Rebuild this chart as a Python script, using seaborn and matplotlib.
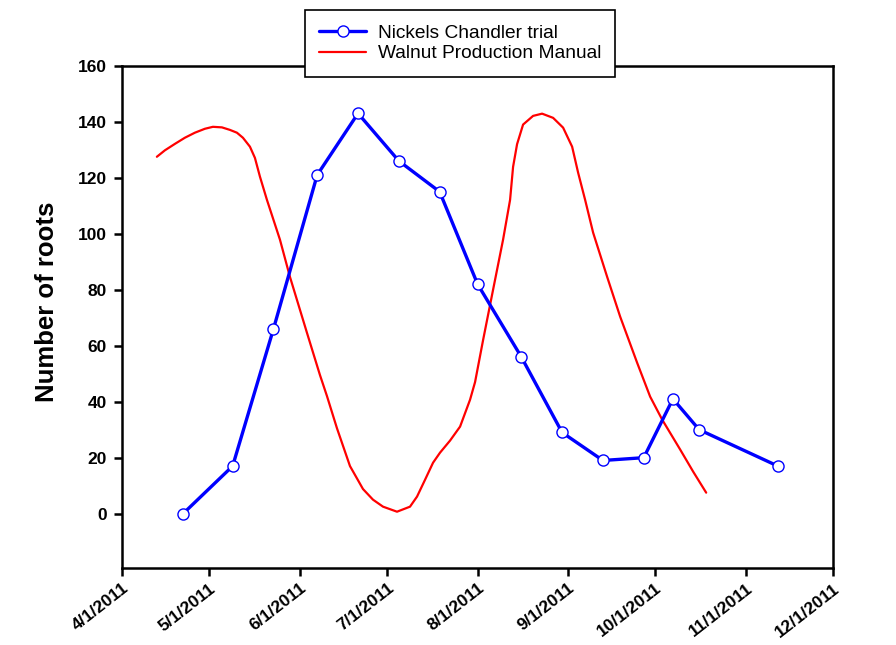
import matplotlib
matplotlib.use("Agg")
import matplotlib.pyplot as plt
import matplotlib.dates as mdates
import seaborn as sns
import pandas as pd

# Nickels Chandler trial (sample dates and root counts)
blue_dates = ["2011-04-22", "2011-05-09", "2011-05-23", "2011-06-07", "2011-06-21",
              "2011-07-05", "2011-07-19", "2011-08-01", "2011-08-16", "2011-08-30",
              "2011-09-13", "2011-09-27", "2011-10-07", "2011-10-16", "2011-11-12"]
blue_values = [0, 17, 66, 121, 143, 126, 115, 82, 56, 29, 19, 20, 41, 30, 17]

# Walnut Production Manual (smooth curve; days since 4/1/2011)
red_days = [12.01, 14.76, 18.19, 21.62, 25.05, 28.48, 31.23, 34.32, 37.06, 39.46,
            41.52, 43.93, 45.64, 47.36, 49.76, 54.22, 57.65, 63.49, 67.95, 70.35,
            73.78, 78.24, 82.70, 86.13, 89.57, 94.37, 98.83, 101.24, 103.98, 106.73,
            109.13, 112.56, 116.00, 119.42, 121.14, 123.89, 127.32, 130.75, 133.15,
            134.18, 135.55, 137.61, 141.04, 144.13, 147.91, 151.34, 154.43, 156.49,
            158.89, 161.63, 166.44, 170.90, 176.73, 181.19, 185.31, 191.49, 195.95,
            200.41]
red_values = [127.5, 129.8, 132.1, 134.3, 136.1, 137.5, 138.2, 138.0, 137.1, 136.1,
              134.3, 131.1, 127.1, 120.4, 112.1, 97.9, 84.6, 64.6, 49.5, 42.0,
              30.5, 17.0, 8.8, 5.0, 2.5, 0.7, 2.5, 6.1, 12.1, 18.2,
              21.8, 26.1, 31.1, 40.7, 47.0, 62.0, 80.0, 97.9, 112.1,
              123.9, 132.0, 139.0, 142.1, 142.9, 141.4, 137.9, 131.1, 121.8,
              112.1, 100.4, 84.6, 70.4, 53.9, 41.8, 33.6, 22.9, 15.0,
              7.5]

y_ticks = [0, 20, 40, 60, 80, 100, 120, 140, 160]

blue_df = pd.DataFrame({"date": pd.to_datetime(blue_dates), "roots": blue_values})
red_df = pd.DataFrame({
    "date": pd.Timestamp("2011-04-01") + pd.to_timedelta(red_days, unit="D"),
    "roots": red_values,
})

sns.set_style("ticks")
plt.rcParams["font.family"] = ["Liberation Sans", "DejaVu Sans"]
plt.rcParams["text.color"] = "black"

fig = plt.figure(figsize=(8.96, 6.45), dpi=100)
ax = fig.add_axes([0.136, 0.119, 0.794, 0.779])

sns.lineplot(data=red_df, x="date", y="roots", ax=ax, color="#ff0000",
             linewidth=1.6, label="Walnut Production Manual", sort=False,
             solid_joinstyle="round", solid_capstyle="round")
sns.lineplot(data=blue_df, x="date", y="roots", ax=ax, color="#0000ff",
             linewidth=2.4, marker="o", markersize=8, markerfacecolor="white",
             markeredgecolor="#0000ff", markeredgewidth=1.0,
             label="Nickels Chandler trial")

ax.set_xlim(pd.Timestamp("2011-04-01"), pd.Timestamp("2011-12-01"))
ax.set_ylim(-19.5, 160)
ax.set_yticks(y_ticks)
ax.xaxis.set_major_locator(mdates.MonthLocator())
ax.xaxis.set_major_formatter(plt.FuncFormatter(
    lambda v, p: (lambda d: f"{d.month}/{d.day}/{d.year}")(mdates.num2date(v))))

for s in ax.spines.values():
    s.set_linewidth(1.8)
    s.set_color("black")
ax.tick_params(axis="both", direction="out", length=6, width=1.8,
               colors="black", labelcolor="black")
ax.tick_params(axis="x", pad=3)
ax.tick_params(axis="y", pad=5)
for lab in ax.get_yticklabels():
    lab.set_fontweight("bold")
    lab.set_fontsize(12.5)
for lab in ax.get_xticklabels():
    lab.set_fontweight("bold")
    lab.set_fontsize(12.5)
    lab.set_rotation(38)
    lab.set_ha("right")
    lab.set_rotation_mode("anchor")

ax.set_xlabel("")
ax.set_ylabel("Number of roots", fontsize=18.5, fontweight="bold", color="black")
ax.yaxis.set_label_coords(-0.088, 0.53)

handles, labels = ax.get_legend_handles_labels()
order = [1, 0]
leg = ax.legend([handles[i] for i in order], [labels[i] for i in order],
                loc="upper center", bbox_to_anchor=(0.5134, 0.9845),
                bbox_transform=fig.transFigure, fontsize=13.8, frameon=True,
                fancybox=False, edgecolor="black", framealpha=1,
                handlelength=2.45, handletextpad=0.6, borderpad=0.75,
                labelspacing=0.17, borderaxespad=0)
leg.get_frame().set_linewidth(1.2)
leg.set_zorder(10)

fig.savefig("out.png", dpi=100)
